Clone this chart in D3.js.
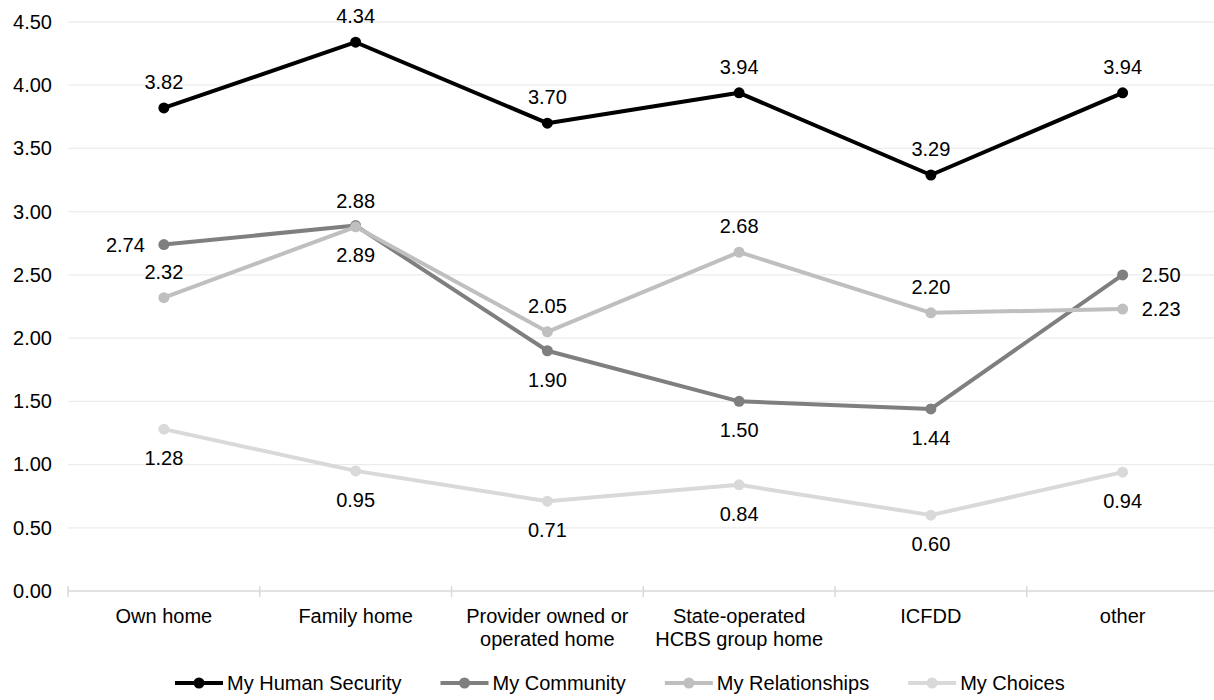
<!DOCTYPE html>
<html>
<head>
<meta charset="utf-8">
<script src="https://cdn.jsdelivr.net/npm/d3@7"></script>
<style>
  html, body { margin: 0; padding: 0; background: #fff; }
  svg { display: block; font-family: "Liberation Sans", Arial, sans-serif; }
</style>
</head>
<body>
<svg id="chart" width="1214" height="700"></svg>
<script>
// Residence types (x-axis categories); "\n" splits a label into lines
const categories = [
  "Own home",
  "Family home",
  "Provider owned or\noperated home",
  "State-operated\nHCBS group home",
  "ICFDD",
  "other"
];

// Mean scores per domain, one value per residence type
const humanSecurity = [3.82, 4.34, 3.70, 3.94, 3.29, 3.94];
const community     = [2.74, 2.89, 1.90, 1.50, 1.44, 2.50];
const relationships = [2.32, 2.88, 2.05, 2.68, 2.20, 2.23];
const choices       = [1.28, 0.95, 0.71, 0.84, 0.60, 0.94];

const seriesNames = ["My Human Security", "My Community", "My Relationships", "My Choices"];

// Y-axis tick values
const yTicks = [0, 0.5, 1, 1.5, 2, 2.5, 3, 3.5, 4, 4.5];

// Presentation: colours and where each data label sits relative to its point
const seriesColors = ["#000000", "#7f7f7f", "#bfbfbf", "#d9d9d9"];
const labelPlacement = [
  ["above", "above", "above", "above", "above", "above"],
  ["left",  "below", "below", "below", "below", "right"],
  ["above", "above", "above", "above", "above", "right"],
  ["below", "below", "below", "below", "below", "below"]
];

const series = [humanSecurity, community, relationships, choices].map((values, i) => ({
  name: seriesNames[i],
  values,
  color: seriesColors[i],
  place: labelPlacement[i]
}));

const svg = d3.select("#chart");
const plot = { left: 68, right: 1218.5, top: 22, bottom: 591 };

const x = d3.scaleBand().domain(categories).range([plot.left, plot.right]).padding(0);
const y = d3.scaleLinear().domain([0, 4.5]).range([plot.bottom, plot.top]);
const cx = c => x(c) + x.bandwidth() / 2;

// Horizontal gridlines
svg.append("g")
  .selectAll("line")
  .data(yTicks.filter(t => t > 0))
  .join("line")
  .attr("x1", plot.left).attr("x2", plot.right)
  .attr("y1", d => y(d)).attr("y2", d => y(d))
  .attr("stroke", "#ececec").attr("stroke-width", 1.3);

// Y axis labels
const yAxis = d3.axisLeft(y).tickValues(yTicks).tickFormat(d3.format(".2f")).tickSize(0).tickPadding(16);
const gy = svg.append("g").attr("transform", `translate(${plot.left},0)`).call(yAxis);
gy.select(".domain").remove();
gy.selectAll("text")
  .attr("font-size", 20).attr("fill", "#000")
  .attr("font-family", "Liberation Sans, Arial, sans-serif");

// X axis baseline with boundary ticks between categories
const boundaries = categories.map(c => x(c)).concat([plot.right]);
const gx = svg.append("g");
gx.append("line")
  .attr("x1", plot.left).attr("x2", plot.right)
  .attr("y1", y(0)).attr("y2", y(0))
  .attr("stroke", "#d9d9d9").attr("stroke-width", 1.5);
gx.selectAll("line.tick")
  .data(boundaries)
  .join("line")
  .attr("class", "tick")
  .attr("x1", d => d).attr("x2", d => d)
  .attr("y1", y(0) - 5).attr("y2", y(0) + 6)
  .attr("stroke", "#d9d9d9").attr("stroke-width", 1.5);

// Category labels (multi-line)
gx.selectAll("text.cat")
  .data(categories)
  .join("text")
  .attr("class", "cat")
  .attr("x", d => cx(d))
  .attr("y", 623)
  .attr("text-anchor", "middle")
  .attr("font-size", 20)
  .attr("fill", "#000")
  .each(function (d) {
    const lines = d.split("\n");
    d3.select(this).selectAll("tspan")
      .data(lines)
      .join("tspan")
      .attr("x", cx(d))
      .attr("dy", (l, i) => i === 0 ? 0 : 23)
      .text(l => l);
  });

// Lines and markers
const line = d3.line().x((v, i) => cx(categories[i])).y(v => y(v));

series.forEach(s => {
  const g = svg.append("g");
  g.append("path")
    .datum(s.values)
    .attr("d", line)
    .attr("fill", "none")
    .attr("stroke", s.color)
    .attr("stroke-width", 4)
    .attr("stroke-linejoin", "round");
  g.selectAll("circle")
    .data(s.values)
    .join("circle")
    .attr("cx", (v, i) => cx(categories[i]))
    .attr("cy", v => y(v))
    .attr("r", 5.5)
    .attr("fill", s.color);
});

// Data labels
series.forEach(s => {
  svg.append("g")
    .selectAll("text")
    .data(s.values)
    .join("text")
    .attr("font-size", 20)
    .attr("fill", "#000")
    .each(function (v, i) {
      const px = cx(categories[i]), py = y(v), p = s.place[i];
      const t = d3.select(this).text(d3.format(".2f")(v));
      if (p === "above") t.attr("x", px).attr("y", py - 19).attr("text-anchor", "middle");
      else if (p === "below") t.attr("x", px).attr("y", py + 36).attr("text-anchor", "middle");
      else if (p === "left") t.attr("x", px - 19).attr("y", py + 7).attr("text-anchor", "end");
      else t.attr("x", px + 19).attr("y", py + 7).attr("text-anchor", "start");
    });
});

// Legend
const legend = svg.append("g").attr("transform", "translate(175,683)");
let lx = 0;
series.forEach(s => {
  const item = legend.append("g").attr("transform", `translate(${lx},0)`);
  item.append("line")
    .attr("x1", 0).attr("x2", 48).attr("y1", 0).attr("y2", 0)
    .attr("stroke", s.color).attr("stroke-width", 4);
  item.append("circle").attr("cx", 24).attr("cy", 0).attr("r", 5.5).attr("fill", s.color);
  const txt = item.append("text")
    .attr("x", 52).attr("y", 7)
    .attr("font-size", 20).attr("fill", "#000")
    .text(s.name);
  lx += 52 + txt.node().getComputedTextLength() + 39;
});
</script>
</body>
</html>
